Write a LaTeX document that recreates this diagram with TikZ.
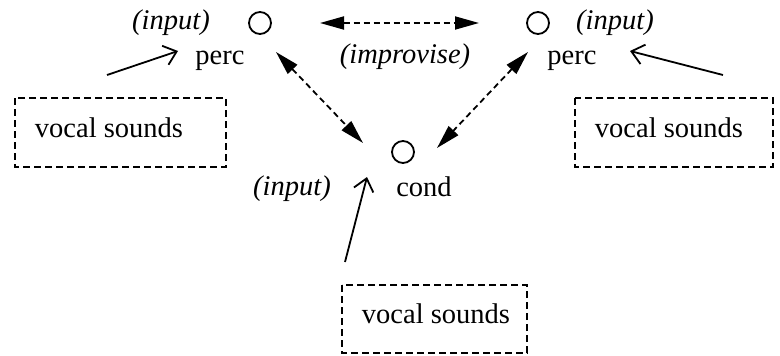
\documentclass[tikz,border=0pt]{standalone}
\usepackage{fontspec}
\setmainfont{Liberation Serif}
\usetikzlibrary{arrows.meta}
\begin{document}
\begin{tikzpicture}[x=1pt,y=-1pt,
  txt/.style={font=\fontsize{28.5}{33}\selectfont, inner sep=0pt, anchor=base},
  lab/.style={font=\fontsize{28.5}{33}\selectfont\itshape, inner sep=0pt, anchor=base},
  agent/.style={circle, draw, line width=1.8pt, minimum size=22pt, inner sep=0pt},
  vbox/.style={draw, dashed, dash pattern=on 7pt off 4pt, line width=1.8pt},
  dlink/.style={dashed, dash pattern=on 6pt off 4pt, line width=1.8pt, {Triangle[length=24pt,width=13pt]}-{Triangle[length=24pt,width=13pt]}},
  inarrow/.style={line width=1.8pt, -{Straight Barb[length=12pt,width=20pt,line width=1.8pt]}}
]
\useasboundingbox (0,0) rectangle (780,356);
% agents
\node[agent] (pl) at (260,23) {};
\node[agent] (pr) at (538,23) {};
\node[agent] (cd) at (403,152) {};
% labels
\node[txt] (percl) at (220,64) {perc};
\node[txt] (percr) at (572,64) {perc};
\node[txt] (cond) at (424,196) {cond};
\node[lab] (inl) at (171,30) {(input)};
\node[lab] (inr) at (615,30) {(input)};
\node[lab] (inb) at (292,195) {(input)};
\node[lab] (impr) at (405,63) {(improvise)};
% boxes
\draw[vbox] (15,98) rectangle (226,167);
\node[txt] (vl) at (109,137) {vocal sounds};
\draw[vbox] (575,98) rectangle (773,167);
\node[txt] (vr) at (669,137) {vocal sounds};
\draw[vbox] (342,285) rectangle (527,353);
\node[txt] (vb) at (436,323) {vocal sounds};
% connector ends
\coordinate (a1) at (320,23);
\coordinate (a2) at (479,23);
\coordinate (b1) at (276,52);
\coordinate (b2) at (363,143);
\coordinate (c1) at (528,52);
\coordinate (c2) at (437,148);
\coordinate (il0) at (107,75);
\coordinate (il1) at (178,51);
\coordinate (ir0) at (723,75);
\coordinate (ir1) at (630,51);
\coordinate (ib0) at (345,262);
\coordinate (ib1) at (367,177);
% connectors
\draw[dlink] (a1) -- (a2);
\draw[dlink] (b1) -- (b2);
\draw[dlink] (c1) -- (c2);
\draw[inarrow] (il0) -- (il1);
\draw[inarrow] (ir0) -- (ir1);
\draw[inarrow] (ib0) -- (ib1);
\end{tikzpicture}
\end{document}
